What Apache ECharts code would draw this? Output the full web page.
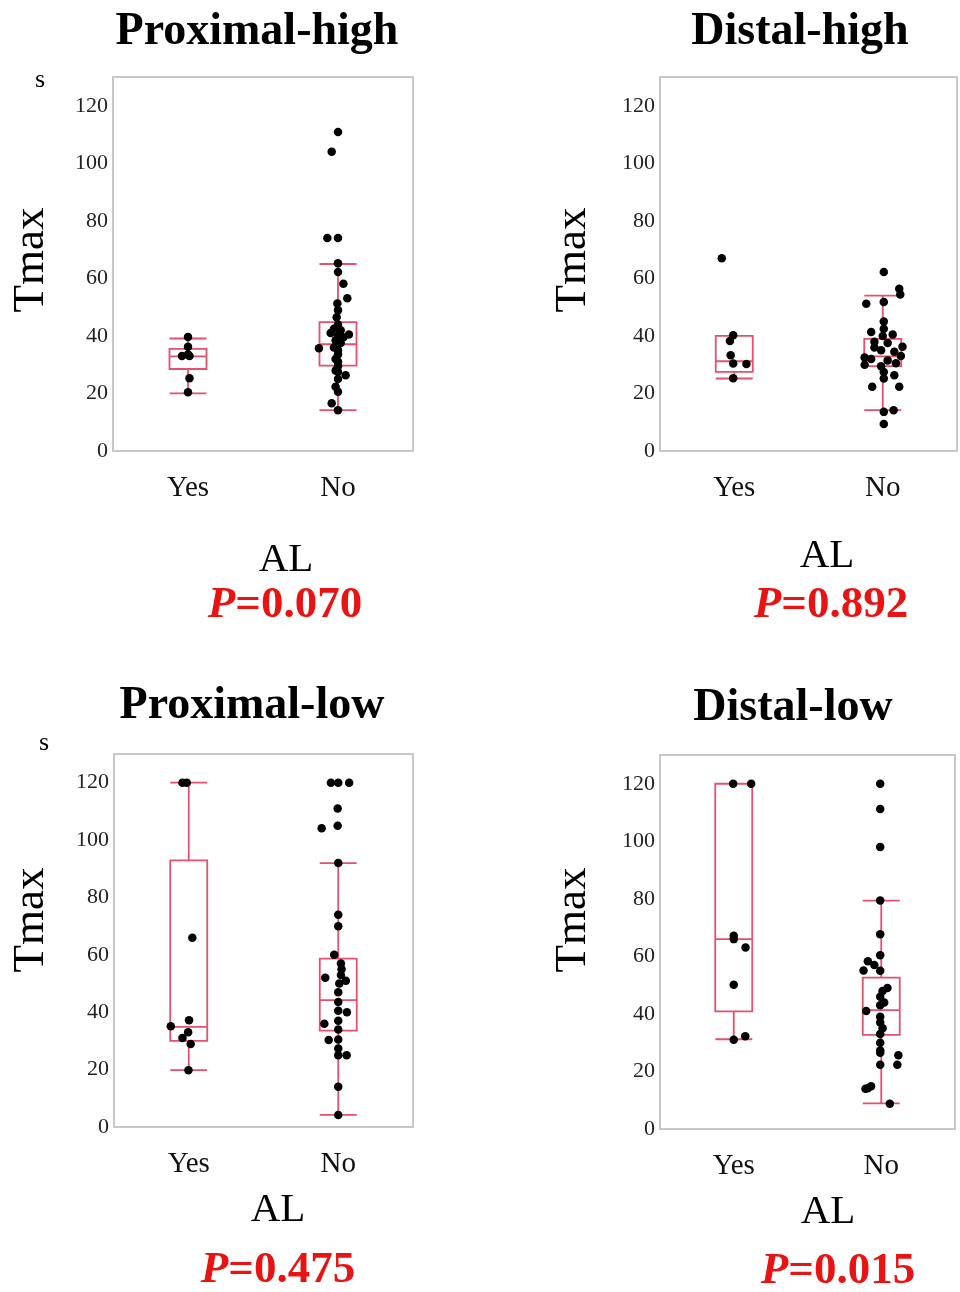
<!DOCTYPE html>
<html>
<head>
<meta charset="utf-8">
<title>Tmax by AL</title>
<script src="https://cdn.jsdelivr.net/npm/echarts@6/dist/echarts.min.js"></script>
<style>
  html, body { margin: 0; padding: 0; background: #fff; }
  #main { width: 960px; height: 1292px; }
</style>
</head>
<body>
<div id="main"></div>
<script>
const categories = ['Yes', 'No'];
const panelTitles = ['Proximal-high', 'Distal-high', 'Proximal-low', 'Distal-low'];
const pValues = ['0.070', '0.892', '0.475', '0.015'];

// box stats: [lower whisker, Q1, median, Q3, upper whisker]
const phBox = [[20, 28.5, 32.9, 35.5, 39.1], [14.2, 29.7, 37.1, 44.8, 65]];
const dhBox = [[25.2, 27.5, 31.2, 40, 40], [14.2, 29.5, 32.9, 39, 54]];
const plBox = [[19.8, 30, 34.9, 92.9, 120], [4.2, 33.6, 44.2, 58.7, 92]];
const dlBox = [[31.2, 40.9, 66, 120, 120], [8.9, 32.7, 41.3, 52.6, 79.4]];

// individual Tmax values (s)
const phYes = [39.6, 36.2, 33, 33.5, 33, 25.3, 20.4];
const phNo = [110.9, 104, 74, 74, 65.3, 62.2, 58.1, 53.1, 51.3, 48.9, 46.5, 44, 42.5, 42, 41, 40.5, 40, 39.5, 38.5, 37.5, 35.7, 36, 35, 33.5, 32, 31, 29.5, 28, 26.3, 27.5, 25, 22.3, 20.6, 16.6, 14.2];
const dhYes = [67, 40.2, 38.2, 33.3, 30.4, 30.2, 25.3];
const dhNo = [62.2, 56.4, 54.4, 51.8, 51.2, 45, 42.5, 41.4, 40.5, 40, 38, 37.5, 36.2, 36, 35, 34.5, 33, 32.5, 32, 31.5, 30.5, 30, 29.5, 27.5, 26.3, 25.2, 22.3, 22.3, 14.2, 13.6, 9.4];
const plYes = [120, 120, 66, 35.1, 37.2, 33, 31, 28.9, 19.8];
const plNo = [120, 120, 120, 111, 105, 104.1, 92, 74, 70, 60, 57, 55, 52, 53, 51, 50, 47, 43.6, 40.5, 40, 37, 36, 34, 30.5, 30.3, 27.4, 25, 25, 14, 4.2];
const dlYes = [120, 120, 67.2, 66, 63.1, 50.1, 31, 32.2];
const dlNo = [120, 111.2, 98, 79.4, 67.7, 60.4, 58.3, 55.1, 57, 55, 49, 48, 46, 44, 41, 43, 39, 37, 35, 33, 30, 27.3, 26.5, 25.6, 22.3, 22.3, 14.9, 14, 14.2, 8.8];

// horizontal jitter of the dots (fraction of a category band)
const phYesJit = [0, 0, -0.04, 0, 0.01, 0.01, 0];
const phNoJit = [0, -0.042, -0.071, 0, 0, 0, 0.036, 0.062, -0.004, 0, -0.009, 0, -0.027, 0.018, -0.049, 0.073, 0, 0.036, -0.016, 0.018, -0.127, -0.027, 0, 0, -0.016, 0, 0, -0.016, 0.051, 0, 0, -0.016, 0, -0.042, 0];
const dhYesJit = [-0.084, -0.007, -0.029, -0.024, -0.007, 0.082, -0.007];
const dhNoJit = [0.007, 0.111, 0.118, 0.007, -0.111, 0.007, 0.007, -0.078, 0.067, 0, -0.056, 0.033, 0.133, -0.056, -0.011, 0.078, 0.122, -0.122, -0.078, 0.033, 0.089, -0.122, -0.011, 0.007, 0.078, 0.007, -0.071, 0.111, 0.073, 0.007, 0.007];
const plYesJit = [-0.042, -0.013, 0.024, -0.12, 0.002, -0.004, -0.042, 0.013, -0.002];
const plNoJit = [-0.049, 0, 0.073, -0.004, -0.004, -0.111, 0, 0, 0, -0.027, 0.018, 0.022, -0.087, 0.018, 0.051, 0.007, 0, 0, 0, 0.058, 0, -0.093, 0, 0, -0.064, 0, 0, 0.056, 0, 0];
const dlYesJit = [-0.004, 0.118, 0, 0, 0.08, 0, 0, 0.078];
const dlNoJit = [-0.007, -0.007, -0.007, -0.007, -0.007, -0.007, -0.091, -0.12, -0.047, -0.007, 0.042, 0.009, -0.007, 0.02, -0.102, -0.007, -0.007, -0.007, 0.009, -0.007, -0.007, -0.007, -0.007, 0.116, -0.007, 0.109, -0.069, -0.107, -0.091, 0.058];

const panels = [
  { box: phBox, yes: phYes, no: phNo, yesJit: phYesJit, noJit: phNoJit },
  { box: dhBox, yes: dhYes, no: dhNo, yesJit: dhYesJit, noJit: dhNoJit },
  { box: plBox, yes: plYes, no: plNo, yesJit: plYesJit, noJit: plNoJit },
  { box: dlBox, yes: dlYes, no: dlNo, yesJit: dlYesJit, noJit: dlNoJit }
];

const serif = "'Liberation Serif', 'Times New Roman', serif";
const boxColor = '#e4506e';

// plot frames
const grids = [
  { left: 113, top: 77, width: 300, height: 374 },
  { left: 660, top: 77, width: 297, height: 374 },
  { left: 114, top: 754, width: 299, height: 373 },
  { left: 660, top: 755, width: 295, height: 374 }
];

const xAxis = [];
const yAxis = [];
const series = [];
grids.forEach((g, i) => {
  g.show = true;
  g.borderColor = '#c8c8c8';
  g.borderWidth = 2;
  g.backgroundColor = '#fff';
  xAxis.push({
    type: 'category',
    gridIndex: i,
    data: categories,
    axisLine: { show: false },
    axisTick: { show: false },
    axisLabel: { fontSize: 29, fontFamily: serif, color: '#111', margin: 23 }
  });
  // hidden value axis so the dots can be spread around the category centre
  xAxis.push({ type: 'value', gridIndex: i, min: -0.5, max: 1.5, show: false });
  yAxis.push({
    type: 'value',
    gridIndex: i,
    min: 0,
    max: 130,
    interval: 20,
    axisLine: { show: false },
    axisTick: { show: false },
    splitLine: { show: false },
    axisLabel: {
      fontSize: 22,
      fontFamily: serif,
      color: '#222',
      margin: 5,
      formatter: v => (v % 20 === 0 ? v : '')
    }
  });
  const p = panels[i];
  series.push({
    type: 'boxplot',
    xAxisIndex: i * 2,
    yAxisIndex: i,
    data: p.box,
    boxWidth: [37, 37],
    itemStyle: { color: 'rgba(255,255,255,0)', borderColor: boxColor, borderWidth: 1.8 },
    silent: true
  });
  const dots = [];
  p.yes.forEach((v, k) => dots.push([0 + p.yesJit[k], v]));
  p.no.forEach((v, k) => dots.push([1 + p.noJit[k], v]));
  series.push({
    type: 'scatter',
    xAxisIndex: i * 2 + 1,
    yAxisIndex: i,
    data: dots,
    symbolSize: 8.5,
    itemStyle: { color: '#000', opacity: 1 },
    z: 5,
    silent: true
  });
});

// text around the plots
const graphic = [];
function txt(text, x, y, size, opts) {
  graphic.push(Object.assign({
    type: 'text',
    x: x,
    y: y,
    style: Object.assign({
      text: text,
      fontSize: size,
      fontFamily: serif,
      fill: '#000',
      align: 'center',
      verticalAlign: 'middle'
    }, (opts && opts.style) || {})
  }, (opts && opts.el) || {}));
}

const titlePos = [[257, 32], [800, 32], [252, 706], [793, 708]];
titlePos.forEach((t, i) => txt(panelTitles[i], t[0], t[1], 46, { style: { fontWeight: 'bold' } }));

txt('s', 40, 80, 26);
txt('s', 44, 743, 26);

const tmaxPos = [[31, 260], [573, 260], [31, 920], [573, 920]];
tmaxPos.forEach(t => txt('Tmax', t[0], t[1], 45, { el: { rotation: Math.PI / 2 } }));

const alPos = [[286, 560], [827, 556], [278, 1210], [828, 1212]];
alPos.forEach(t => txt('AL', t[0], t[1], 41));

const pPos = [[285, 605], [831, 605], [278, 1270], [838, 1271]];
pPos.forEach((t, i) => txt('{i|P}=' + pValues[i], t[0], t[1], 45, {
  style: {
    fill: '#e81414',
    fontWeight: 'bold',
    rich: { i: { fontStyle: 'italic', fontWeight: 'bold', fontSize: 45, fontFamily: serif, fill: '#e81414' } }
  }
}));

const chart = echarts.init(document.getElementById('main'));
chart.setOption({
  backgroundColor: '#fff',
  animation: false,
  grid: grids,
  xAxis: xAxis,
  yAxis: yAxis,
  series: series,
  graphic: graphic
});
</script>
</body>
</html>
